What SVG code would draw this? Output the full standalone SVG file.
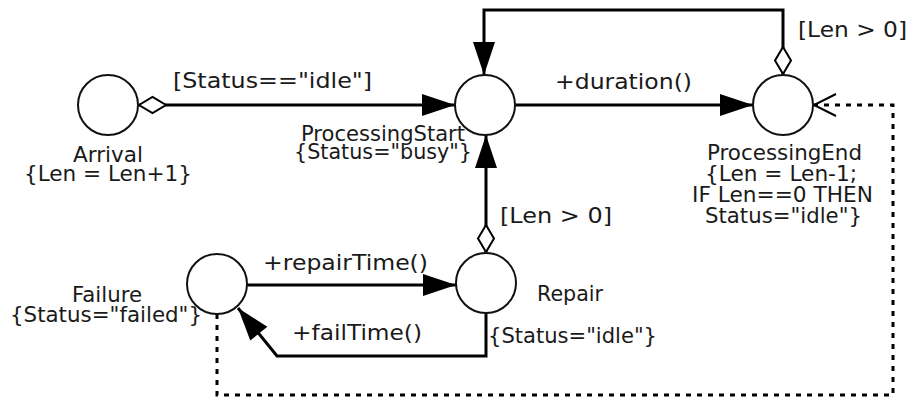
<svg xmlns="http://www.w3.org/2000/svg" width="913" height="401" viewBox="0 0 913 401">
<style>
text{font-family:"DejaVu Sans","Liberation Sans",sans-serif;font-size:21px;fill:#1a1a1a}
.n{fill:#fff;stroke:#111;stroke-width:2}
.c{fill:none;stroke:#000;stroke-width:3}
.d{fill:none;stroke:#000;stroke-width:3;stroke-dasharray:5 6}
.m{text-anchor:middle}
</style>
<defs>
<marker id="arr" markerUnits="userSpaceOnUse" markerWidth="36" markerHeight="24" refX="33" refY="11" orient="auto" overflow="visible"><path d="M0,0 L33,11 L0,22 z" fill="#000"/></marker>
<marker id="dia" markerUnits="userSpaceOnUse" markerWidth="30" markerHeight="20" refX="0" refY="8" orient="auto" overflow="visible"><path d="M0,8 L13.5,0 L27,8 L13.5,16 z" fill="#fff" stroke="#000" stroke-width="2"/></marker>
<marker id="open" markerUnits="userSpaceOnUse" markerWidth="24" markerHeight="26" refX="22" refY="12" orient="auto" overflow="visible"><path d="M0,1 L22,12 L0,23" fill="none" stroke="#000" stroke-width="2"/></marker>
</defs>
<g id="connectors">
<path class="c" d="M139,105 H455" marker-start="url(#dia)" marker-end="url(#arr)"/>
<path class="c" d="M515,105 H753" marker-end="url(#arr)"/>
<path class="c" d="M783,74 V10 H484 V75" marker-start="url(#dia)" marker-end="url(#arr)"/>
<path class="c" d="M486,252 V135" marker-start="url(#dia)" marker-end="url(#arr)"/>
<path class="c" d="M247,285 H456" marker-end="url(#arr)"/>
<path class="c" d="M486,313 V356 H277 L238,308" marker-end="url(#arr)"/>
<path class="d" d="M217,314 V395 H893 V105 H814" marker-end="url(#open)"/>
<text x="173" y="88" textLength="199" lengthAdjust="spacingAndGlyphs">[Status=="idle"]</text>
<text x="555" y="89" textLength="137" lengthAdjust="spacingAndGlyphs">+duration()</text>
<text x="798" y="37" textLength="109" lengthAdjust="spacingAndGlyphs">[Len &gt; 0]</text>
<text x="500" y="223" textLength="112" lengthAdjust="spacingAndGlyphs">[Len &gt; 0]</text>
<text x="263" y="270" textLength="165" lengthAdjust="spacingAndGlyphs">+repairTime()</text>
<text x="292" y="340" textLength="130" lengthAdjust="spacingAndGlyphs">+failTime()</text>
</g>
<g id="Arrival">
<circle class="n" cx="108" cy="105" r="30"/>
<text x="73" y="162" textLength="70" lengthAdjust="spacingAndGlyphs">Arrival</text>
<text x="24" y="181" textLength="168" lengthAdjust="spacingAndGlyphs">{Len = Len+1}</text>
</g>
<g id="ProcessingStart">
<circle class="n" cx="485" cy="105" r="30"/>
<text x="301" y="141" textLength="164" lengthAdjust="spacingAndGlyphs">ProcessingStart</text>
<text x="294" y="159" textLength="178" lengthAdjust="spacingAndGlyphs">{Status="busy"}</text>
</g>
<g id="ProcessingEnd">
<circle class="n" cx="783" cy="105" r="30"/>
<text x="707" y="160" textLength="155" lengthAdjust="spacingAndGlyphs">ProcessingEnd</text>
<text x="705" y="181" textLength="152" lengthAdjust="spacingAndGlyphs">{Len = Len-1;</text>
<text x="692" y="202" textLength="181" lengthAdjust="spacingAndGlyphs">IF Len==0 THEN</text>
<text x="705" y="223" textLength="157" lengthAdjust="spacingAndGlyphs">Status="idle"}</text>
</g>
<g id="Failure">
<circle class="n" cx="217" cy="284" r="30"/>
<text x="72" y="302" textLength="70" lengthAdjust="spacingAndGlyphs">Failure</text>
<text x="10" y="322" textLength="192" lengthAdjust="spacingAndGlyphs">{Status="failed"}</text>
</g>
<g id="Repair">
<circle class="n" cx="486" cy="283" r="30"/>
<text x="537" y="301" textLength="66" lengthAdjust="spacingAndGlyphs">Repair</text>
<text x="488" y="343" textLength="169" lengthAdjust="spacingAndGlyphs">{Status="idle"}</text>
</g>
</svg>
